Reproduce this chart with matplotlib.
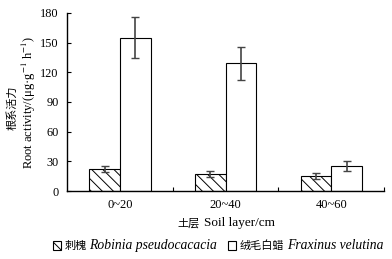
import matplotlib
matplotlib.use("Agg")
import matplotlib.pyplot as plt
from matplotlib.patches import Rectangle
from matplotlib.offsetbox import HPacker, TextArea, DrawingArea, AnchoredOffsetbox
import numpy as np

plt.rcParams['font.family'] = ['Liberation Serif', 'Noto Sans CJK SC']
plt.rcParams['mathtext.fontset'] = 'stix'
plt.rcParams['hatch.linewidth'] = 0.7

categories = ["0~20", "20~40", "40~60"]
robinia = [22.5, 16.8, 15.5]
robinia_err = [3.0, 3.0, 3.0]
fraxinus = [155.0, 129.0, 25.5]
fraxinus_err = [20.5, 16.5, 5.0]
yticks = [0, 30, 60, 90, 120, 150, 180]

HATCH = '\\\\\\'
CJK = 'Noto Sans CJK SC'
SERIF = 'Liberation Serif'

fig = plt.figure(figsize=(3.92, 2.59), dpi=100)
ax = fig.add_axes([0.171, 0.2625, 0.809, 0.6875])

x = np.arange(len(categories))
w = 0.29
ax.bar(x - w/2, robinia, w, color='white', edgecolor='black', hatch=HATCH, linewidth=0.8)
ax.bar(x + w/2, fraxinus, w, color='white', edgecolor='black', linewidth=0.8)
ax.errorbar(x - w/2, robinia, yerr=robinia_err, fmt='none', ecolor='#444444', elinewidth=1.2, capsize=2.6, capthick=1.0)
ax.errorbar(x + w/2, fraxinus, yerr=fraxinus_err, fmt='none', ecolor='#444444', elinewidth=1.2, capsize=2.6, capthick=1.0)

ax.set_xlim(-0.5, 2.5)
ax.set_ylim(0, 180)
ax.set_yticks(yticks)
ax.set_xticks(x)
ax.set_xticklabels(categories, fontsize=9)
ax.set_xticks([0.5, 1.5, 2.5], minor=True)
ax.tick_params(axis='x', which='major', length=0, pad=6)
ax.tick_params(axis='x', which='minor', direction='in', length=3, width=0.8)
ax.tick_params(axis='y', direction='in', length=3, width=0.8, labelsize=8.8, pad=6)
for s in ['top', 'right']:
    ax.spines[s].set_visible(False)
for s in ['left', 'bottom']:
    ax.spines[s].set_linewidth(1.0)

# y label: English line + Chinese line
ax.set_ylabel("Root activity/(μg·g$^{-1}$ h$^{-1}$)", fontsize=9, labelpad=1.5)
fig.text(0.031, 0.585, "根系活力", rotation=90, ha='center', va='center', fontsize=8, family=CJK)


def anchored_row(children, xy, sep=2):
    box = HPacker(children=children, align='center', pad=0, sep=sep)
    anc = AnchoredOffsetbox(loc='center', child=box, pad=0, frameon=False,
                            bbox_to_anchor=xy, bbox_transform=fig.transFigure, borderpad=0)
    fig.add_artist(anc)
    return anc


# x label
anchored_row([TextArea("土层", textprops=dict(family=CJK, size=8)),
              TextArea("Soil layer/cm", textprops=dict(family=SERIF, size=9.5))],
             (0.578, 0.138), sep=3)


# legend
def swatch(hatch, size=7):
    da = DrawingArea(size, size, 0, 0)
    da.add_artist(Rectangle((0.5, 0.5), size - 1, size - 1, facecolor='white', edgecolor='black',
                            hatch=hatch, linewidth=0.8))
    return da

names_cn = ["刺槐", "绒毛白蜡"]
names_lat = ["Robinia pseudocacacia", "Fraxinus velutina"]
items = []
for i, (cn, lat, hatch) in enumerate(zip(names_cn, names_lat, [HATCH, None])):
    if i > 0:
        items.append(DrawingArea(3, 1, 0, 0))
    items.append(swatch(hatch))
    items.append(TextArea(cn, textprops=dict(family=CJK, size=8)))
    items.append(TextArea(lat, textprops=dict(family=SERIF, style='italic', size=9.8)))
anchored_row(items, (0.555, 0.052), sep=2)

fig.savefig("out.png", dpi=100)
